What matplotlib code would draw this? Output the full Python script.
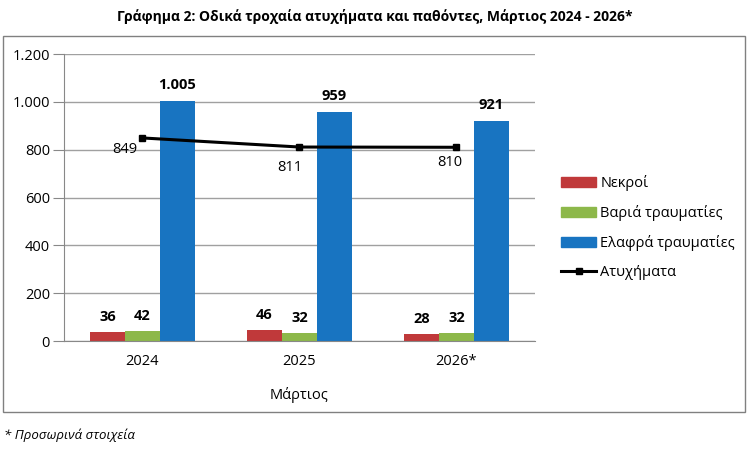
import matplotlib
matplotlib.use("Agg")
import matplotlib.pyplot as plt
import numpy as np
from matplotlib.patches import Rectangle, Patch
from matplotlib.lines import Line2D

plt.rcParams["font.family"] = ["Open Sans", "DejaVu Sans"]

# Data
years = ["2024", "2025", "2026*"]
deaths = [36, 46, 28]
serious = [42, 32, 32]
slight = [1005, 959, 921]
accidents = [849, 811, 810]

series_names = ["Νεκροί", "Βαριά τραυματίες", "Ελαφρά τραυματίες", "Ατυχήματα"]
colors = ["#C0393A", "#8DB84A", "#1874C1"]

title = "Γράφημα 2: Οδικά τροχαία ατυχήματα και παθόντες, Μάρτιος 2024 - 2026*"
xlabel = "Μάρτιος"
footnote = "* Προσωρινά στοιχεία"


def fmt(v):
    return f"{v:,}".replace(",", ".")


fig = plt.figure(figsize=(7.5, 4.5), dpi=100)
ax = fig.add_axes([0.0853, 0.2422, 0.628, 0.6378])

x = np.arange(len(years))
w = 0.223
groups = [deaths, serious, slight]
for i, (vals, c) in enumerate(zip(groups, colors)):
    bars = ax.bar(x + (i - 1) * w, vals, width=w, color=c, zorder=2)
    for b, v in zip(bars, vals):
        ax.annotate(fmt(v), (b.get_x() + b.get_width() / 2, v),
                    xytext=(0, 6), textcoords="offset points",
                    ha="center", va="bottom", fontsize=10.5, fontweight="bold")

ax.plot(x, accidents, color="black", lw=2.2, marker="s", ms=5, zorder=3)
# label offsets (points) for the accidents line
offsets = [(-13, -8.6), (-7, -14.4), (-4.5, -10.8)]
for xi, v, off in zip(x, accidents, offsets):
    ax.annotate(fmt(v), (xi, v), xytext=off, textcoords="offset points",
                ha="center", va="center", fontsize=10.5)

ax.set_xlim(-0.5, 2.5)
ax.set_ylim(0, 1200)
ax.set_yticks(np.arange(0, 1201, 200))
ax.set_yticklabels([fmt(t) for t in range(0, 1201, 200)], fontsize=10.5)
ax.set_xticks(x)
ax.set_xticklabels(years, fontsize=10.5)
ax.tick_params(axis="x", length=0, pad=9)
ax.tick_params(axis="y", length=8, color="#888888", pad=2)
ax.grid(axis="y", color="#A0A0A0", lw=1, zorder=0)
for s in ["top", "right"]:
    ax.spines[s].set_visible(False)
for s in ["left", "bottom"]:
    ax.spines[s].set_color("#888888")
ax.set_xlabel(xlabel, fontsize=10.5, labelpad=13)

handles = [Patch(color=c) for c in colors] + [
    Line2D([], [], color="black", lw=2.2, marker="s", ms=5)]
fig.legend(handles, series_names, loc="upper left",
           bbox_to_anchor=(548 / 750, 1 - 162 / 450), frameon=False,
           fontsize=10.5, handlelength=2.4, handleheight=0.65,
           labelspacing=0.95, handletextpad=0.3)

fig.text(0.5, 1 - 17 / 450, title, ha="center", va="center",
         fontsize=10, fontweight="bold")
fig.text(4 / 750, 1 - 435 / 450, footnote, ha="left", va="center",
         fontsize=9.5, style="italic")
fig.add_artist(Rectangle((3 / 750, 1 - 412 / 450), 742 / 750, 376 / 450,
                         transform=fig.transFigure, fill=False,
                         edgecolor="#808080", lw=1))

fig.savefig("out.png", dpi=100)
